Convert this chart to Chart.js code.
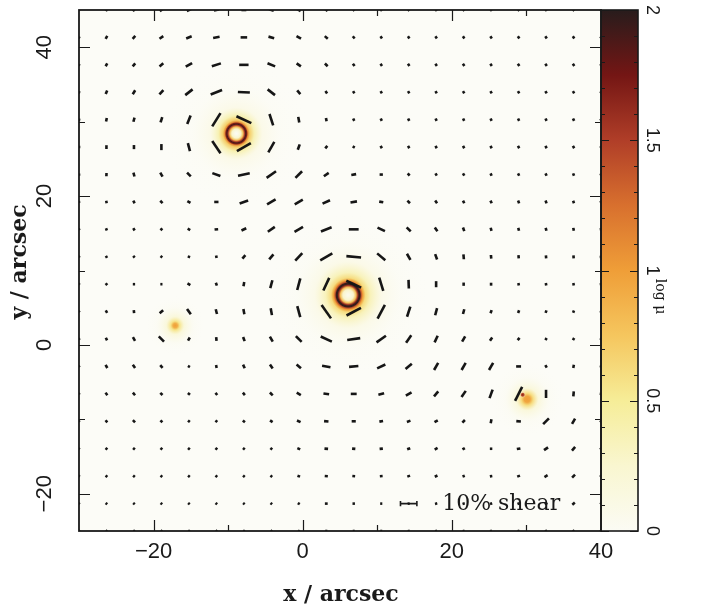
<!DOCTYPE html>
<html>
<head>
<meta charset="utf-8">
<script src="https://cdn.jsdelivr.net/npm/chart.js@4.4.1/dist/chart.umd.min.js"></script>
<style>
  html, body { margin: 0; padding: 0; background: #fff; }
  #wrap { width: 701px; height: 606px; }
</style>
</head>
<body>
<div id="wrap"><canvas id="shearMap"></canvas></div>
<script>
// shear grid positions (arcsec)
const gridX = [-30, -26.32, -22.63, -18.95, -15.26, -11.58, -7.89, -4.21, -0.53, 3.16,
               6.84, 10.53, 14.21, 17.89, 21.58, 25.26, 28.95, 32.63, 36.32, 40];
const gridY = [45, 41.32, 37.63, 33.95, 30.26, 26.58, 22.89, 19.21, 15.53, 11.84,
               8.16, 4.47, 0.79, -2.89, -6.58, -10.26, -13.95, -17.63, -21.32, -25];

// shear amplitude in per cent, one row per gridY value
const shearPct = [
  [1.0,1.6,2.0,2.4,2.8,3.0,3.0,3.0,2.6,2.0,1.5,1.5,1.5,1.5,1.5,1.5,1.5,1.5,1.5,1.3],
  [1.3,2.0,2.4,2.8,3.6,4.0,4.0,3.6,3.2,2.4,1.8,1.6,1.6,1.6,1.6,1.6,1.6,1.6,1.6,1.4],
  [1.3,2.0,2.4,3.0,4.5,5.8,5.7,5.0,3.2,2.4,1.8,1.6,1.6,1.6,1.6,1.6,1.6,1.6,1.6,1.4],
  [1.4,2.4,2.8,3.6,5.7,7.5,7.3,5.7,3.0,1.8,1.6,1.6,1.6,1.6,1.6,1.6,1.6,1.6,1.6,1.4],
  [1.5,2.2,2.6,3.3,5.5,9.5,10.0,7.3,3.5,2.0,1.6,1.6,1.6,1.6,1.6,1.6,1.6,1.6,1.6,1.4],
  [1.5,2.3,2.5,3.7,5.0,9.0,9.8,7.3,3.5,2.0,1.5,1.6,1.6,1.6,1.6,1.6,1.6,1.6,1.6,1.4],
  [1.3,2.0,2.4,2.8,3.2,5.2,7.3,7.0,5.7,3.6,3.0,2.0,1.8,1.6,1.6,1.6,1.6,1.6,1.6,1.4],
  [1.2,1.6,1.8,2.0,2.2,2.6,5.5,6.0,5.7,5.0,4.0,2.5,2.2,2.0,1.8,1.8,1.8,1.8,1.6,1.4],
  [1.2,1.5,1.6,1.6,1.8,2.2,3.2,5.2,6.0,7.0,6.0,5.0,3.5,2.8,2.3,2.0,1.8,1.8,1.8,1.5],
  [1.2,1.4,1.4,1.4,1.5,1.6,2.8,4.0,6.3,8.5,9.0,6.5,4.3,3.5,3.0,2.2,2.0,1.8,1.8,1.5],
  [1.2,1.5,1.4,1.3,2.0,1.8,2.6,5.0,7.3,8.5,10.0,8.5,5.3,3.7,2.0,1.8,1.5,1.5,1.5,1.3],
  [1.2,1.7,1.9,2.8,4.0,3.0,3.3,4.3,7.0,10.0,10.0,9.5,6.5,4.5,3.0,2.0,1.8,1.6,1.5,1.3],
  [1.2,1.8,2.6,4.5,2.2,2.3,2.7,3.5,5.0,7.5,8.0,7.0,5.5,4.5,3.7,2.4,1.8,1.5,1.5,1.3],
  [1.2,2.2,2.4,2.2,1.4,1.9,2.4,2.9,3.5,5.2,5.7,5.5,5.0,5.0,5.0,5.0,3.0,1.8,2.0,1.3],
  [1.2,1.9,2.1,1.9,1.7,1.7,1.9,2.4,2.9,3.5,3.6,3.6,4.0,4.0,4.5,5.5,9.5,5.0,3.0,1.5],
  [1.2,1.7,1.9,1.7,1.5,1.5,1.7,1.9,2.4,2.7,2.5,2.3,2.3,2.3,2.2,2.5,2.8,5.0,3.7,1.5],
  [1.2,1.5,1.5,1.5,1.5,1.5,1.5,1.5,1.9,2.2,2.0,2.0,2.0,2.0,1.7,1.5,2.2,3.0,3.0,1.5],
  [1.2,1.4,1.4,1.4,1.4,1.4,1.4,1.4,1.7,1.9,1.7,1.7,1.8,1.8,1.5,1.5,1.8,2.2,2.5,1.5],
  [1.2,1.3,1.3,1.3,1.3,1.3,1.3,1.3,1.4,1.7,1.5,1.3,1.3,1.4,1.4,1.4,1.5,1.8,2.0,1.3],
  [1.1,1.2,1.2,1.2,1.2,1.2,1.2,1.2,1.2,1.3,1.2,1.2,1.2,1.2,1.2,1.2,1.2,1.3,1.3,1.2]
];

// shear position angle in degrees, counter-clockwise from +x
const shearAng = [
  [65,62,50,38,25,12,0,-15,-30,-40,-50,-50,-50,-50,-50,-50,-50,-50,-50,-50],
  [65,60,48,35,22,10,0,-15,-30,-40,-50,-55,-55,-55,-55,-55,-55,-55,-55,-55],
  [65,60,50,40,30,18,0,-22,-35,-45,-55,-55,-55,-55,-55,-55,-55,-55,-55,-55],
  [75,68,58,48,38,22,-3,-38,-50,-55,-60,-60,-60,-60,-60,-60,-60,-60,-60,-60],
  [80,78,75,72,68,58,-25,-72,-80,-80,-65,-65,-65,-65,-65,-65,-65,-65,-65,-65],
  [90,90,90,90,-75,-56,30,60,70,50,-30,-60,-60,-60,-60,-60,-60,-60,-60,-60],
  [90,88,-75,-60,-45,-20,12,35,45,35,10,0,-50,-60,-60,-65,-65,-65,-70,-70],
  [-80,-80,-60,-45,-30,0,20,30,30,25,10,-10,-45,-55,-65,-65,-70,-70,-70,-70],
  [-70,-70,-60,-45,-30,5,25,35,30,22,0,-25,-45,-55,-70,-75,-75,-75,-80,-80],
  [-60,-60,-50,-40,-20,10,50,50,47,30,-5,-40,-60,-70,-85,-85,-85,-85,-85,-85],
  [-50,-50,0,0,-30,-70,80,75,75,65,-25,-73,-88,90,90,90,-80,-80,-80,-80],
  [-60,-60,-85,40,-55,-75,-80,-80,-75,-55,28,62,72,75,75,70,70,70,70,70],
  [-65,-65,-60,-45,60,-85,-70,-60,-45,-25,8,35,55,65,60,55,50,60,60,60],
  [-60,-60,-55,-50,-30,-80,-65,-55,-40,-10,5,25,40,60,60,60,0,-60,80,80],
  [-55,-55,-50,-45,-40,-50,-50,-45,-30,-8,0,15,30,50,55,70,63,90,85,85],
  [-50,-50,-45,-45,-40,-40,-40,-35,-25,-5,0,10,20,30,45,80,-5,45,60,60],
  [-40,-40,-40,-40,-40,-40,-40,-40,-25,-5,-5,5,20,30,30,0,10,35,50,50],
  [-40,-40,-40,-40,-40,-40,-40,-40,-20,-5,-5,5,20,25,20,10,20,30,45,45],
  [-40,-40,-40,-40,-40,-40,-40,-40,-30,0,0,0,10,15,15,20,20,30,40,40],
  [-40,-40,-40,-40,-40,-40,-40,-40,-30,0,0,0,10,15,15,20,20,30,30,30]
];

// lens components: centre (arcsec) and radial log(mu) profile
const lensX = [6.1, -8.9, -17.1, 30.1, 29.5];
const lensY = [6.7, 28.4, 2.6, -7.3, -6.7];
const lensR = [
  [0, 0.7, 1.05, 1.3, 1.45, 1.6, 1.75, 1.95, 2.3, 3.0, 4.5, 7, 11],
  [0, 0.6, 0.9, 1.1, 1.25, 1.4, 1.55, 1.8, 2.4, 3.5, 6, 10],
  [0, 0.3, 0.6, 1.2, 2.5, 4],
  [0, 0.4, 0.8, 1.5, 3, 5],
  [0, 0.2, 0.4]
];
const lensLogMu = [
  [0.15, 0.3, 0.8, 1.6, 1.95, 1.95, 1.4, 1.0, 0.6, 0.35, 0.18, 0.07, 0],
  [0.1, 0.3, 0.8, 1.5, 1.9, 1.7, 1.1, 0.7, 0.38, 0.18, 0.06, 0],
  [1.0, 0.9, 0.55, 0.25, 0.08, 0],
  [1.0, 0.95, 0.6, 0.25, 0.08, 0],
  [1.7, 1.4, 0]
];

const barShear = 10;          // reference stick, per cent
const barX = 14.21, barY = -21.32;
const arcsecPerPct = 0.22;    // stick length per per cent of shear

// colour table for log(mu), 0 .. 2
const heatStops = [0, 0.25, 0.5, 0.75, 1, 1.25, 1.5, 1.75, 2];
const heatRGB = [[251,251,244],[249,246,208],[246,237,152],[245,198,94],[239,158,56],
                 [216,112,46],[176,62,40],[116,22,20],[40,28,28]];

function heatColor(v, a) {
  v = Math.max(0, Math.min(2, v));
  let k = 0;
  while (k < heatStops.length - 2 && v > heatStops[k + 1]) k++;
  const t = (v - heatStops[k]) / (heatStops[k + 1] - heatStops[k]);
  const c = heatRGB[k].map((c0, n) => Math.round(c0 + (heatRGB[k + 1][n] - c0) * t));
  return `rgba(${c[0]},${c[1]},${c[2]},${a === undefined ? 1 : a})`;
}

// one point per stick, centred on the grid node
const sticks = [];
gridY.forEach((gy, j) => {
  gridX.forEach((gx, i) => {
    sticks.push({x: gx, y: gy, pct: shearPct[j][i], ang: shearAng[j][i]});
  });
});

// stick half length in pixels, through the x scale
function halfLen(c) {
  const s = c.chart.scales.x;
  const pct = c.raw ? c.raw.pct : 0;
  return Math.abs(s.getPixelForValue(pct * arcsecPerPct) - s.getPixelForValue(0)) / 2;
}

const bh = barShear * arcsecPerPct / 2, cap = 0.35;
const barPts = [
  {x: barX - bh, y: barY}, {x: barX + bh, y: barY}, {x: null, y: null},
  {x: barX - bh, y: barY - cap}, {x: barX - bh, y: barY + cap}, {x: null, y: null},
  {x: barX + bh, y: barY - cap}, {x: barX + bh, y: barY + cap}
];

const magMap = {
  id: 'magMap',
  beforeDatasetsDraw(chart) {
    const {ctx, chartArea: a, scales: {x, y}} = chart;
    ctx.save();
    ctx.beginPath();
    ctx.rect(a.left, a.top, a.width, a.height);
    ctx.clip();
    ctx.fillStyle = '#fcfcf7';
    ctx.fillRect(a.left, a.top, a.width, a.height);
    lensX.forEach((lx, k) => {
      const cx = x.getPixelForValue(lx), cy = y.getPixelForValue(lensY[k]);
      const rr = lensR[k], mu = lensLogMu[k];
      const rMax = rr[rr.length - 1];
      const rPx = x.getPixelForValue(lx + rMax) - cx;
      const g = ctx.createRadialGradient(cx, cy, 0, cx, cy, rPx);
      rr.forEach((r, n) => g.addColorStop(r / rMax, heatColor(mu[n], Math.min(1, mu[n] / 0.35))));
      ctx.fillStyle = g;
      ctx.beginPath();
      ctx.arc(cx, cy, rPx, 0, Math.PI * 2);
      ctx.fill();
    });
    ctx.restore();
  },
  afterDatasetsDraw(chart) {
    const {ctx, scales: {x, y}} = chart;
    ctx.save();
    ctx.fillStyle = '#1a1a1a';
    ctx.font = '22px "DejaVu Serif"';
    ctx.textAlign = 'left';
    ctx.textBaseline = 'middle';
    ctx.fillText('10% shear', x.getPixelForValue(18.7), y.getPixelForValue(barY) + 1);
    ctx.restore();
  }
};

function rotText(ctx, txt, px, py, ang) {
  ctx.save();
  ctx.translate(px, py);
  ctx.rotate(ang);
  ctx.fillText(txt, 0, 0);
  ctx.restore();
}

const axesFrame = {
  id: 'axesFrame',
  afterDraw(chart) {
    const {ctx, chartArea: a, scales: {x, y, cb}} = chart;
    ctx.save();
    ctx.strokeStyle = '#1a1a1a';
    ctx.fillStyle = '#1a1a1a';

    // colour bar
    const cTop = cb.getPixelForValue(2), cBot = cb.getPixelForValue(0);
    const cL = a.right, cR = a.right + 37;
    const lg = ctx.createLinearGradient(0, cBot, 0, cTop);
    heatStops.forEach(s => lg.addColorStop(s / 2, heatColor(s)));
    ctx.fillStyle = lg;
    ctx.fillRect(cL, cTop, cR - cL, cBot - cTop);
    ctx.fillStyle = '#1a1a1a';
    ctx.lineWidth = 1.2;
    for (let v = 0; v <= 2.001; v += 0.1) {
      const py = Math.round(cb.getPixelForValue(v)) + 0.5;
      const major = Math.abs(v * 2 - Math.round(v * 2)) < 1e-6;
      const len = major ? 8 : 4;
      ctx.beginPath();
      ctx.moveTo(cL, py); ctx.lineTo(cL + len, py);
      ctx.moveTo(cR, py); ctx.lineTo(cR - len, py);
      ctx.stroke();
    }
    ctx.lineWidth = 1.6;
    ctx.strokeRect(cL, cTop, cR - cL, cBot - cTop);
    ctx.font = '18px "Liberation Sans"';
    ctx.textAlign = 'center';
    ctx.textBaseline = 'middle';
    ['0', '0.5', '1', '1.5', '2'].forEach((t, n) => {
      rotText(ctx, t, cR + 14, cb.getPixelForValue(n * 0.5), Math.PI / 2);
    });
    ctx.font = '14px "DejaVu Serif"';
    rotText(ctx, 'log \u03bc', cR + 22, cb.getPixelForValue(0.9), Math.PI / 2);

    // plot frame with inward ticks
    ctx.lineWidth = 1.2;
    for (let v = -20; v <= 30; v += 10) {
      const px = Math.round(x.getPixelForValue(v)) + 0.5;
      const len = v % 20 === 0 ? 11 : 6;
      ctx.beginPath();
      ctx.moveTo(px, a.bottom); ctx.lineTo(px, a.bottom - len);
      ctx.moveTo(px, a.top); ctx.lineTo(px, a.top + len);
      ctx.stroke();
    }
    for (let v = -20; v <= 40; v += 10) {
      const py = Math.round(y.getPixelForValue(v)) + 0.5;
      const len = v % 20 === 0 ? 11 : 6;
      ctx.beginPath();
      ctx.moveTo(a.left, py); ctx.lineTo(a.left + len, py);
      ctx.moveTo(a.right, py); ctx.lineTo(a.right - len, py);
      ctx.stroke();
    }
    ctx.lineWidth = 1.8;
    ctx.strokeRect(a.left, a.top, a.right - a.left, a.bottom - a.top);

    // tick labels
    const fmt = v => (v < 0 ? '\u2212' + Math.abs(v) : String(v));
    ctx.font = '22px "Liberation Sans"';
    [-20, 0, 20, 40].forEach(v => ctx.fillText(fmt(v), x.getPixelForValue(v), a.bottom + 21));
    [-20, 0, 20, 40].forEach(v => rotText(ctx, fmt(v), a.left - 34, y.getPixelForValue(v), -Math.PI / 2));

    // axis titles
    ctx.font = 'bold 22px "DejaVu Serif"';
    ctx.fillText('x / arcsec', (a.left + a.right) / 2 + 1, a.bottom + 64);
    rotText(ctx, 'y / arcsec', 20, 262, -Math.PI / 2);
    ctx.restore();
  }
};

new Chart(document.getElementById('shearMap'), {
  type: 'scatter',
  data: {
    datasets: [{
      label: 'shear',
      data: sticks,
      pointStyle: 'line',
      pointRadius: halfLen,
      pointRotation: c => (c.raw ? -c.raw.ang : 0),
      pointBorderColor: '#161616',
      pointBorderWidth: 2.6,
      pointBackgroundColor: '#161616'
    }, {
      label: 'scale bar',
      data: barPts,
      showLine: true,
      spanGaps: false,
      pointRadius: 0,
      borderColor: '#1c1c1c',
      borderWidth: 1.6,
      borderCapStyle: 'butt'
    }]
  },
  options: {
    responsive: true,
    maintainAspectRatio: false,
    animation: false,
    devicePixelRatio: 1,
    layout: { padding: { left: 79, top: 10, right: 100, bottom: 75 } },
    plugins: { legend: { display: false }, tooltip: { enabled: false } },
    scales: {
      x: { type: 'linear', min: -30, max: 40, display: false },
      y: { type: 'linear', min: -25, max: 45, display: false },
      cb: { type: 'linear', axis: 'y', position: 'right', min: 0, max: 2, display: false }
    }
  },
  plugins: [magMap, axesFrame]
});
</script>
</body>
</html>
